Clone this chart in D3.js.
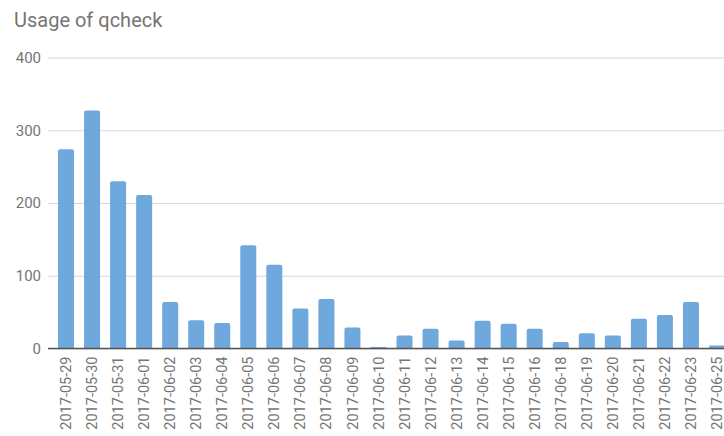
<!DOCTYPE html>
<html>
<head>
<meta charset="utf-8">
<script src="https://cdn.jsdelivr.net/npm/d3@7"></script>
<style>
  html, body { margin: 0; padding: 0; background: #fff; }
  svg { display: block; font-family: Roboto, "Noto Sans", Arial, sans-serif; }
</style>
</head>
<body>
<svg id="chart" width="724" height="436"></svg>
<script>
// Daily usage counts for qcheck
const dates = [
  "2017-05-29", "2017-05-30", "2017-05-31", "2017-06-01", "2017-06-02",
  "2017-06-03", "2017-06-04", "2017-06-05", "2017-06-06", "2017-06-07",
  "2017-06-08", "2017-06-09", "2017-06-10", "2017-06-11", "2017-06-12",
  "2017-06-13", "2017-06-14", "2017-06-15", "2017-06-16", "2017-06-18",
  "2017-06-19", "2017-06-20", "2017-06-21", "2017-06-22", "2017-06-23",
  "2017-06-25"
];
const usage = [
  274, 327, 230, 211, 64,
  39, 35, 142, 115, 55,
  68, 29, 2, 18, 27,
  11, 38, 34, 27, 9,
  21, 18, 41, 46, 64,
  4
];
const yTicks = [0, 100, 200, 300, 400];

const svg = d3.select("#chart");
const baseY = 348.5, topY = 57.5;
const plotLeft = 48, plotRight = 724;

const x = d3.scaleBand()
  .domain(dates)
  .range([53, 730])
  .paddingInner(0.385)
  .paddingOuter(0.1925);

const y = d3.scaleLinear()
  .domain([0, 400])
  .range([baseY, topY]);

// Title
svg.append("text")
  .attr("x", 14)
  .attr("y", 27)
  .attr("fill", "#757575")
  .attr("font-size", 20)
  .text("Usage of qcheck");

// Horizontal gridlines and value labels
const yAxis = d3.axisLeft(y)
  .tickValues(yTicks)
  .tickSize(-(plotRight - plotLeft))
  .tickPadding(7);

const gy = svg.append("g")
  .attr("transform", `translate(${plotLeft},0)`)
  .call(yAxis);
gy.select(".domain").remove();
gy.selectAll(".tick line").attr("stroke", "#d6d6d6").attr("stroke-width", 1);
gy.selectAll(".tick text")
  .attr("fill", "#757575")
  .attr("font-size", 15)
  .attr("font-family", "Roboto, 'Noto Sans', Arial, sans-serif");

// Bars with softly rounded tops
const r = 2;
svg.append("g")
  .selectAll("path")
  .data(dates.map((d, i) => ({ date: d, value: usage[i] })))
  .join("path")
  .attr("fill", "#6fa8dc")
  .attr("d", d => {
    const x0 = x(d.date), w = x.bandwidth();
    const y0 = y(d.value), y1 = y(0);
    const rr = Math.min(r, (y1 - y0) / 2);
    return `M${x0},${y1}V${y0 + rr}Q${x0},${y0} ${x0 + rr},${y0}` +
           `H${x0 + w - rr}Q${x0 + w},${y0} ${x0 + w},${y0 + rr}V${y1}Z`;
  });

// Category axis with rotated date labels
const xAxis = d3.axisBottom(x).tickSize(0).tickPadding(0);
const gx = svg.append("g")
  .attr("transform", `translate(0,${baseY})`)
  .call(xAxis);
gx.select(".domain").remove();
gx.selectAll(".tick text")
  .attr("fill", "#757575")
  .attr("font-size", 14.5)
  .attr("font-family", "Roboto, 'Noto Sans', Arial, sans-serif")
  .attr("text-anchor", "end")
  .attr("dy", "0.35em")
  .attr("transform", "translate(0,8) rotate(-90)");

// Baseline
svg.append("line")
  .attr("x1", plotLeft)
  .attr("x2", plotRight)
  .attr("y1", y(0))
  .attr("y2", y(0))
  .attr("stroke", "#555")
  .attr("stroke-width", 1.6);
</script>
</body>
</html>
